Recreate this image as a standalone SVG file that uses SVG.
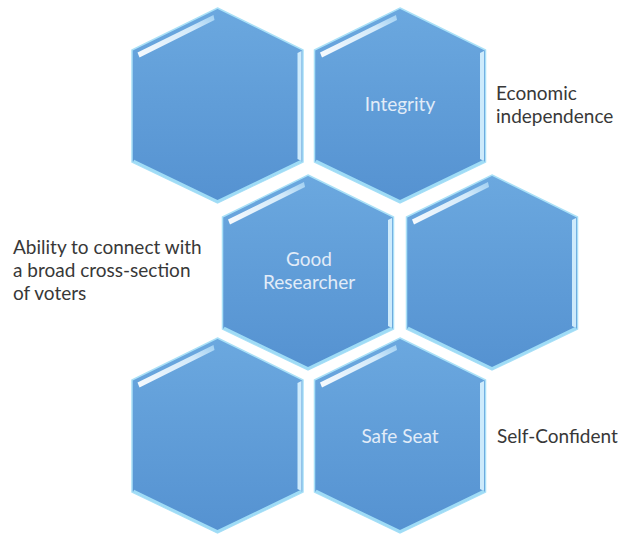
<svg xmlns="http://www.w3.org/2000/svg" width="626" height="534" viewBox="0 0 626 534">
<style>
.lbl{font-family:Lato,"Open Sans",sans-serif;font-size:19px;fill:#383838}
.in{font-family:Lato,"Open Sans",sans-serif;font-size:19px;fill:#e2ecf8;text-anchor:middle}
</style>
<defs>
<linearGradient id="g" x1="0" y1="0" x2="0" y2="1">
<stop offset="0" stop-color="#6ba8df"/>
<stop offset="1" stop-color="#5592d1"/>
</linearGradient>
<linearGradient id="hl" x1="0" y1="1" x2="1" y2="0">
<stop offset="0" stop-color="#ffffff" stop-opacity="0.95"/>
<stop offset="0.7" stop-color="#e6f6ff" stop-opacity="0.85"/>
<stop offset="1" stop-color="#c8ecff" stop-opacity="0.6"/>
</linearGradient>
<g id="hex">
<path d="M0,0 L85.5,42 L85.5,154 L0,195 L-85.5,154 L-85.5,42 Z" fill="url(#g)" stroke="#a9e0f7" stroke-width="1.5"/>
<path d="M-80,44.5 L-4,7 L-3,12 L-78,49.5 Z" fill="url(#hl)"/>
<path d="M80,45 L84,43 L84,153 L80,151 Z" fill="#d9f3ff" opacity="0.9"/>
<path d="M-84,153 L0,193.5 L84,153" fill="none" stroke="#9fdcf6" stroke-width="2.5"/>
</g>
</defs>
<g id="hex-top-left"><use href="#hex" x="217.5" y="8"/></g>
<g id="hex-integrity"><use href="#hex" x="400" y="8"/><text class="in" x="400" y="111">Integrity</text></g>
<g id="hex-good-researcher"><use href="#hex" x="308" y="175"/><text class="in" x="309" y="266">Good</text><text class="in" x="309" y="289">Researcher</text></g>
<g id="hex-mid-right"><use href="#hex" x="492" y="175"/></g>
<g id="hex-bottom-left"><use href="#hex" x="217.5" y="338"/></g>
<g id="hex-safe-seat"><use href="#hex" x="400" y="338"/><text class="in" x="400" y="443">Safe Seat</text></g>
<g id="connectors"/>
<g id="labels">
<text class="lbl" x="496" y="100">Economic</text>
<text class="lbl" x="496" y="123">independence</text>
<text class="lbl" x="13" y="254">Ability to connect with</text>
<text class="lbl" x="13" y="277">a broad cross-section</text>
<text class="lbl" x="13" y="300">of voters</text>
<text class="lbl" x="497" y="443">Self-Confident</text>
</g>
</svg>
